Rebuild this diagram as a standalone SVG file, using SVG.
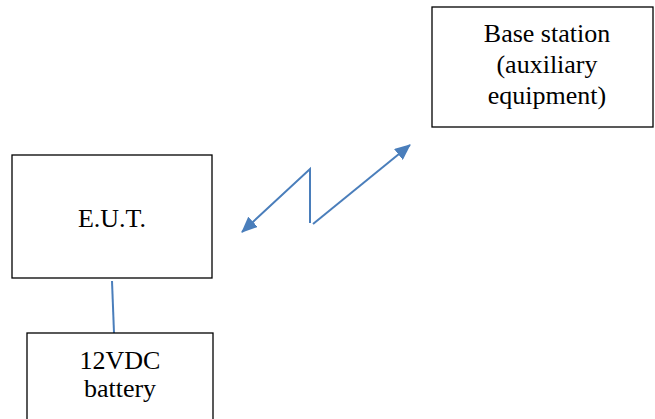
<svg xmlns="http://www.w3.org/2000/svg" width="655" height="419" viewBox="0 0 655 419">
<style>
.box{fill:#fff;stroke:#000;stroke-width:1.3}
.t{font-family:"Liberation Serif","Times New Roman",serif;font-size:26px;fill:#000;text-anchor:middle}
.c{fill:none;stroke:#4a7ebb;stroke-width:2}
</style>
<defs>
<marker id="a" viewBox="0 0 16 14" refX="15" refY="7" markerWidth="16" markerHeight="14" markerUnits="userSpaceOnUse" orient="auto-start-reverse">
<path d="M0,0 L16,7 L0,14 z" fill="#4a7ebb"/>
</marker>
</defs>
<rect width="655" height="419" fill="#fff"/>
<g id="connectors">
<line class="c" x1="112" y1="281" x2="114" y2="333"/>
<polyline class="c" points="242,232 310,169 310,223" marker-start="url(#a)"/>
<line class="c" x1="313" y1="224" x2="410" y2="145" marker-end="url(#a)"/>
</g>
<g id="base-station">
<rect class="box" x="432" y="7" width="221" height="120"/>
<text class="t" x="547" y="42">Base station</text>
<text class="t" x="547" y="73">(auxiliary</text>
<text class="t" x="547" y="104">equipment)</text>
</g>
<g id="eut">
<rect class="box" x="12" y="155" width="200" height="123"/>
<text class="t" x="112" y="227">E.U.T.</text>
</g>
<g id="battery">
<rect class="box" x="27" y="333" width="186" height="100"/>
<text class="t" x="120" y="369">12VDC</text>
<text class="t" x="120" y="397">battery</text>
</g>
</svg>
